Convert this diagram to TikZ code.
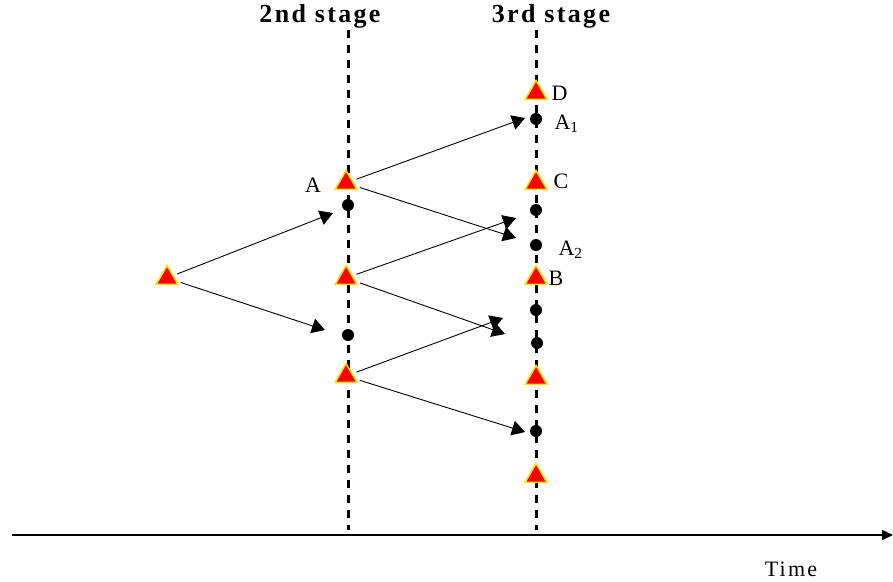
\documentclass[tikz,border=0pt]{standalone}
\usepackage{fontspec}
\setmainfont{Liberation Serif}
\usetikzlibrary{shapes.geometric,arrows.meta}
\definecolor{trired}{RGB}{250,0,0}
\definecolor{triyellow}{RGB}{255,225,0}
\begin{document}
\begin{tikzpicture}[
    x=1pt,
    y=-1pt,
    >={Triangle[length=13pt,width=15pt]},
    stageline/.style={line width=3pt,dash pattern=on 8pt off 7pt},
    stagetri/.style={regular polygon,regular polygon sides=3,
      minimum size=25pt,inner sep=0pt,fill=trired,draw=triyellow,
      line width=1.5pt},
    eventdot/.style={circle,fill=black,minimum size=12pt,inner sep=0pt},
    move/.style={->,line width=0.9pt,shorten <=4pt},
    headlabel/.style={font=\fontsize{26}{31}\selectfont\bfseries
      \addfontfeature{LetterSpace=9}},
    smalllabel/.style={font=\fontsize{22}{26}\selectfont
      \addfontfeature{LetterSpace=10}}
  ]
    \useasboundingbox (0,0) rectangle (893,581);

    % stage lines and time axis
    \draw[stageline] (348,30) -- (348,530);
    \draw[stageline] (536,30) -- (536,530);
    \coordinate (axisL) at (12,535);
    \coordinate (axisR) at (893,535);
    \draw[line width=1.5pt,-{Triangle[length=11pt,width=10pt]}]
      (axisL) -- (axisR);

    \node[headlabel] (head2) at (320,16) {2nd stage};
    \node[headlabel] (head3) at (551,16) {3rd stage};
    \node[smalllabel] (timelab) at (791,569) {Time};

    % triangles
    \node[stagetri] (t0) at (167,278) {};
    \node[stagetri] (tA) at (346,183) {};
    \node[stagetri] (tM) at (346,278) {};
    \node[stagetri] (tL) at (346,376) {};
    \node[stagetri] (tD) at (536,93) {};
    \node[stagetri] (tC) at (536,183) {};
    \node[stagetri] (tB) at (536,278) {};
    \node[stagetri] (t3d) at (536,378) {};
    \node[stagetri] (t3e) at (536,476) {};

    % dots
    \node[eventdot] (d2a) at (348,205) {};
    \node[eventdot] (d2b) at (348,335) {};
    \node[eventdot] (dA1) at (536,119) {};
    \node[eventdot] (d3b) at (536,210) {};
    \node[eventdot] (dA2) at (536,245) {};
    \node[eventdot] (d3d) at (536,310) {};
    \node[eventdot] (d3e) at (537,343) {};
    \node[eventdot] (d3f) at (536,431) {};

    % labels
    \node[smalllabel] (labA) at (313,185) {A};
    \node[smalllabel,anchor=west] (labD) at (548,93) {D};
    \node[smalllabel,anchor=west] (labA1) at (551,124) {A\textsubscript{1}};
    \node[smalllabel,anchor=west] (labC) at (550,181) {C};
    \node[smalllabel,anchor=west] (labA2) at (555,250) {A\textsubscript{2}};
    \node[smalllabel,anchor=west] (labB) at (545,278) {B};

    % arrow ends
    \coordinate (e1) at (333,213);
    \coordinate (e2) at (325,330);
    \coordinate (e3) at (525,118);
    \coordinate (e4) at (516,238);
    \coordinate (e5) at (516,218);
    \coordinate (e6) at (505,334);
    \coordinate (e7) at (503,318);
    \coordinate (e8) at (525,432);

    \draw[move] (t0) -- (e1);
    \draw[move] (t0) -- (e2);
    \draw[move] (tA) -- (e3);
    \draw[move] (tA) -- (e4);
    \draw[move] (tM) -- (e5);
    \draw[move] (tM) -- (e6);
    \draw[move] (tL) -- (e7);
    \draw[move] (tL) -- (e8);
  \end{tikzpicture}
\end{document}
